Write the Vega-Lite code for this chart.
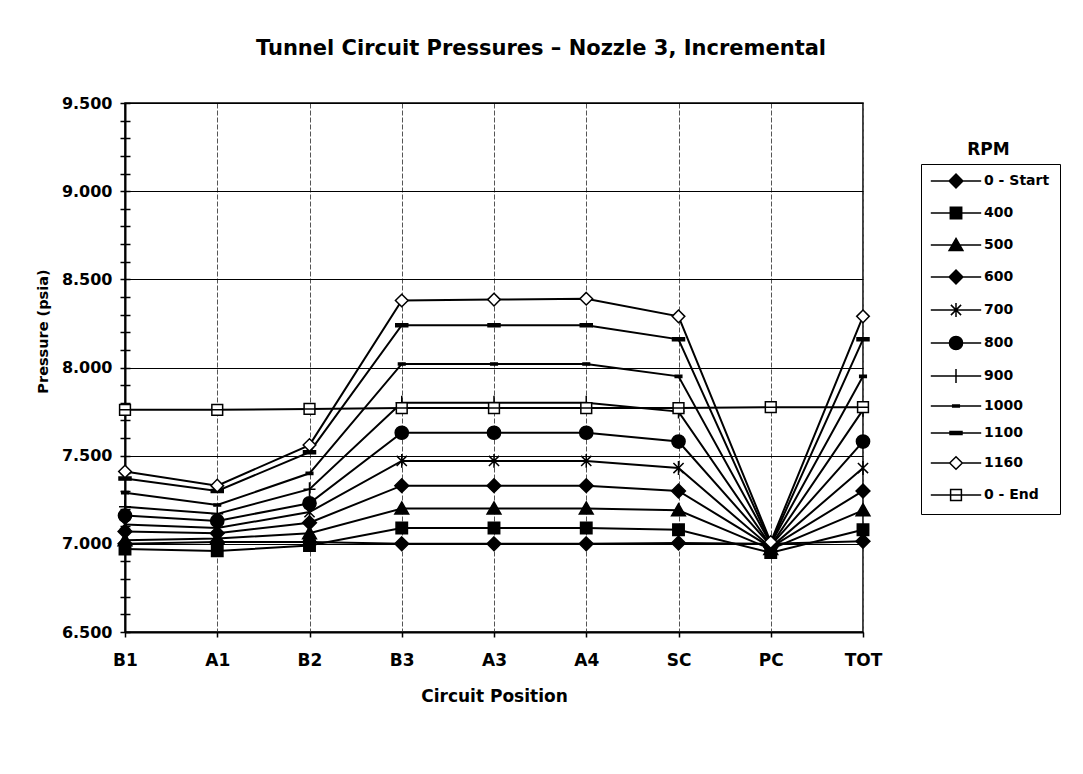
{
  "$schema": "https://vega.github.io/schema/vega-lite/v6.json",
  "width": 738,
  "height": 529,
  "autosize": {"type": "none"},
  "padding": {"left": 125, "top": 103, "right": 220, "bottom": 142},
  "background": "white",
  "config": {
    "font": "DejaVu Sans",
    "view": {"stroke": "black", "strokeWidth": 1.5},
    "axis": {"labelColor": "black", "titleColor": "black"}
  },
  "title": {
    "text": "Tunnel Circuit Pressures – Nozzle 3, Incremental",
    "font": "DejaVu Sans",
    "fontSize": 21,
    "fontWeight": "bold",
    "color": "black",
    "anchor": "middle",
    "frame": "group",
    "dx": 47,
    "offset": 36
  },
  "data": {
    "values": [
      {"pos": "B1", "rpm": "0 - Start", "p": 7.0},
      {"pos": "A1", "rpm": "0 - Start", "p": 7.01},
      {"pos": "B2", "rpm": "0 - Start", "p": 7.01},
      {"pos": "B3", "rpm": "0 - Start", "p": 7.0},
      {"pos": "A3", "rpm": "0 - Start", "p": 7.0},
      {"pos": "A4", "rpm": "0 - Start", "p": 7.0},
      {"pos": "SC", "rpm": "0 - Start", "p": 7.005},
      {"pos": "PC", "rpm": "0 - Start", "p": 7.0},
      {"pos": "TOT", "rpm": "0 - Start", "p": 7.015},
      {"pos": "B1", "rpm": "400", "p": 6.97},
      {"pos": "A1", "rpm": "400", "p": 6.96},
      {"pos": "B2", "rpm": "400", "p": 6.99},
      {"pos": "B3", "rpm": "400", "p": 7.09},
      {"pos": "A3", "rpm": "400", "p": 7.09},
      {"pos": "A4", "rpm": "400", "p": 7.09},
      {"pos": "SC", "rpm": "400", "p": 7.08},
      {"pos": "PC", "rpm": "400", "p": 6.95},
      {"pos": "TOT", "rpm": "400", "p": 7.08},
      {"pos": "B1", "rpm": "500", "p": 7.02},
      {"pos": "A1", "rpm": "500", "p": 7.03},
      {"pos": "B2", "rpm": "500", "p": 7.06},
      {"pos": "B3", "rpm": "500", "p": 7.2},
      {"pos": "A3", "rpm": "500", "p": 7.2},
      {"pos": "A4", "rpm": "500", "p": 7.2},
      {"pos": "SC", "rpm": "500", "p": 7.19},
      {"pos": "PC", "rpm": "500", "p": 6.97},
      {"pos": "TOT", "rpm": "500", "p": 7.19},
      {"pos": "B1", "rpm": "600", "p": 7.07},
      {"pos": "A1", "rpm": "600", "p": 7.06},
      {"pos": "B2", "rpm": "600", "p": 7.12},
      {"pos": "B3", "rpm": "600", "p": 7.33},
      {"pos": "A3", "rpm": "600", "p": 7.33},
      {"pos": "A4", "rpm": "600", "p": 7.33},
      {"pos": "SC", "rpm": "600", "p": 7.3},
      {"pos": "PC", "rpm": "600", "p": 6.98},
      {"pos": "TOT", "rpm": "600", "p": 7.3},
      {"pos": "B1", "rpm": "700", "p": 7.11},
      {"pos": "A1", "rpm": "700", "p": 7.09},
      {"pos": "B2", "rpm": "700", "p": 7.18},
      {"pos": "B3", "rpm": "700", "p": 7.47},
      {"pos": "A3", "rpm": "700", "p": 7.47},
      {"pos": "A4", "rpm": "700", "p": 7.47},
      {"pos": "SC", "rpm": "700", "p": 7.43},
      {"pos": "PC", "rpm": "700", "p": 6.98},
      {"pos": "TOT", "rpm": "700", "p": 7.43},
      {"pos": "B1", "rpm": "800", "p": 7.16},
      {"pos": "A1", "rpm": "800", "p": 7.13},
      {"pos": "B2", "rpm": "800", "p": 7.23},
      {"pos": "B3", "rpm": "800", "p": 7.63},
      {"pos": "A3", "rpm": "800", "p": 7.63},
      {"pos": "A4", "rpm": "800", "p": 7.63},
      {"pos": "SC", "rpm": "800", "p": 7.58},
      {"pos": "PC", "rpm": "800", "p": 6.99},
      {"pos": "TOT", "rpm": "800", "p": 7.58},
      {"pos": "B1", "rpm": "900", "p": 7.21},
      {"pos": "A1", "rpm": "900", "p": 7.17},
      {"pos": "B2", "rpm": "900", "p": 7.31},
      {"pos": "B3", "rpm": "900", "p": 7.8},
      {"pos": "A3", "rpm": "900", "p": 7.8},
      {"pos": "A4", "rpm": "900", "p": 7.8},
      {"pos": "SC", "rpm": "900", "p": 7.75},
      {"pos": "PC", "rpm": "900", "p": 6.99},
      {"pos": "TOT", "rpm": "900", "p": 7.76},
      {"pos": "B1", "rpm": "1000", "p": 7.29},
      {"pos": "A1", "rpm": "1000", "p": 7.22},
      {"pos": "B2", "rpm": "1000", "p": 7.4},
      {"pos": "B3", "rpm": "1000", "p": 8.02},
      {"pos": "A3", "rpm": "1000", "p": 8.02},
      {"pos": "A4", "rpm": "1000", "p": 8.02},
      {"pos": "SC", "rpm": "1000", "p": 7.95},
      {"pos": "PC", "rpm": "1000", "p": 7.0},
      {"pos": "TOT", "rpm": "1000", "p": 7.95},
      {"pos": "B1", "rpm": "1100", "p": 7.37},
      {"pos": "A1", "rpm": "1100", "p": 7.3},
      {"pos": "B2", "rpm": "1100", "p": 7.52},
      {"pos": "B3", "rpm": "1100", "p": 8.24},
      {"pos": "A3", "rpm": "1100", "p": 8.24},
      {"pos": "A4", "rpm": "1100", "p": 8.24},
      {"pos": "SC", "rpm": "1100", "p": 8.16},
      {"pos": "PC", "rpm": "1100", "p": 7.0},
      {"pos": "TOT", "rpm": "1100", "p": 8.16},
      {"pos": "B1", "rpm": "1160", "p": 7.41},
      {"pos": "A1", "rpm": "1160", "p": 7.33},
      {"pos": "B2", "rpm": "1160", "p": 7.56},
      {"pos": "B3", "rpm": "1160", "p": 8.38},
      {"pos": "A3", "rpm": "1160", "p": 8.385},
      {"pos": "A4", "rpm": "1160", "p": 8.39},
      {"pos": "SC", "rpm": "1160", "p": 8.29},
      {"pos": "PC", "rpm": "1160", "p": 7.01},
      {"pos": "TOT", "rpm": "1160", "p": 8.29},
      {"pos": "B1", "rpm": "0 - End", "p": 7.76},
      {"pos": "A1", "rpm": "0 - End", "p": 7.76},
      {"pos": "B2", "rpm": "0 - End", "p": 7.765},
      {"pos": "B3", "rpm": "0 - End", "p": 7.77},
      {"pos": "A3", "rpm": "0 - End", "p": 7.77},
      {"pos": "A4", "rpm": "0 - End", "p": 7.77},
      {"pos": "SC", "rpm": "0 - End", "p": 7.77},
      {"pos": "PC", "rpm": "0 - End", "p": 7.775},
      {"pos": "TOT", "rpm": "0 - End", "p": 7.775}
    ]
  },
  "resolve": {"scale": {"y": "independent", "shape": "independent", "fill": "independent"}},
  "layer": [
    {
      "mark": {"type": "line", "color": "black", "strokeWidth": 2},
      "encoding": {
        "x": {
          "field": "pos",
          "type": "ordinal",
          "sort": ["B1", "A1", "B2", "B3", "A3", "A4", "SC", "PC", "TOT"],
          "scale": {"type": "point", "padding": 0},
          "axis": {
            "title": "Circuit Position",
            "titleFontSize": 17,
            "titleFontWeight": "bold",
            "titlePadding": 20,
            "labelFontSize": 17,
            "labelFontWeight": "bold",
            "labelAngle": 0,
            "labelPadding": 15,
            "tickSize": 5,
            "tickColor": "black",
            "tickWidth": 1.5,
            "domainColor": "black",
            "domainWidth": 2,
            "grid": true,
            "gridColor": "#555555",
            "gridWidth": 1,
            "gridDash": [5, 2]
          }
        },
        "y": {
          "field": "p",
          "type": "quantitative",
          "scale": {"domain": [6.5, 9.5], "nice": false, "zero": false},
          "axis": {
            "title": "Pressure (psia)",
            "titleFontSize": 14.5,
            "titleFontWeight": "bold",
            "titleX": -82,
            "titleY": 228,
            "titleBaseline": "middle",
            "values": [6.5, 7, 7.5, 8, 8.5, 9, 9.5],
            "format": ".3f",
            "labelFontSize": 16,
            "labelFontWeight": "bold",
            "ticks": false,
            "tickSize": 0,
            "labelPadding": 13,
            "domainColor": "black",
            "domainWidth": 2,
            "grid": true,
            "gridColor": "black",
            "gridWidth": 1
          }
        },
        "detail": {"field": "rpm", "type": "nominal"}
      }
    },
    {
      "mark": {"type": "point", "filled": true, "stroke": "black", "strokeWidth": 1.5, "size": 144, "opacity": 1},
      "encoding": {
        "x": {
          "field": "pos",
          "type": "ordinal",
          "sort": ["B1", "A1", "B2", "B3", "A3", "A4", "SC", "PC", "TOT"],
          "scale": {"type": "point", "padding": 0}
        },
        "y": {
          "field": "p",
          "type": "quantitative",
          "scale": {"domain": [6.5, 9.5], "nice": false, "zero": false},
          "axis": {
            "orient": "left",
            "values": [6.5, 6.6, 6.7, 6.8, 6.9, 7.0, 7.1, 7.2, 7.3, 7.4, 7.5, 7.6, 7.7, 7.8, 7.9, 8.0, 8.1, 8.2, 8.3, 8.4, 8.5, 8.6, 8.7, 8.8, 8.9, 9.0, 9.1, 9.2, 9.3, 9.4, 9.5],
            "offset": -5,
            "tickSize": 10,
            "tickColor": "black",
            "tickWidth": 1.5,
            "labels": false,
            "domain": false,
            "grid": false,
            "title": null
          }
        },
        "fill": {
          "field": "rpm",
          "type": "nominal",
          "scale": {
            "domain": ["0 - Start", "400", "500", "600", "700", "800", "900", "1000", "1100", "1160", "0 - End"],
            "range": ["black", "black", "black", "black", "black", "black", "black", "black", "black", "white", "white"]
          },
          "legend": null
        },
        "shape": {
          "field": "rpm",
          "type": "nominal",
          "scale": {
            "domain": ["0 - Start", "400", "500", "600", "700", "800", "900", "1000", "1100", "1160", "0 - End"],
            "range": [
              "M0,-1.15L1.15,0L0,1.15L-1.15,0Z",
              "M-0.95,-0.95H0.95V0.95H-0.95Z",
              "M0,-1.1L1.15,0.9H-1.15Z",
              "M0,-1.15L1.15,0L0,1.15L-1.15,0Z",
              "M-0.85,-0.85L0.85,0.85M-0.85,0.85L0.85,-0.85M0,-1.15V1.15",
              "M1.1,0A1.1,1.1,0,1,1,-1.1,0A1.1,1.1,0,1,1,1.1,0Z",
              "M0,-1.15V1.15M-1,0H1",
              "M-0.55,-0.18H0.55V0.18H-0.55Z",
              "M-1,-0.25H1V0.25H-1Z",
              "M0,-1.05L1.05,0L0,1.05L-1.05,0Z",
              "M-0.9,-0.9H0.9V0.9H-0.9ZM-0.9,0H0.9"
            ]
          },
          "legend": null
        }
      }
    },
    {
      "transform": [{"filter": "false"}],
      "mark": {"type": "point", "filled": true, "stroke": "black", "strokeWidth": 1.5, "size": 144, "opacity": 1},
      "encoding": {
        "x": {
          "field": "pos",
          "type": "ordinal",
          "sort": ["B1", "A1", "B2", "B3", "A3", "A4", "SC", "PC", "TOT"],
          "scale": {"type": "point", "padding": 0}
        },
        "y": {
          "field": "p",
          "type": "quantitative",
          "scale": {"domain": [6.5, 9.5], "nice": false, "zero": false},
          "axis": {
            "orient": "right",
            "domain": false,
            "ticks": false,
            "labels": false,
            "grid": false,
            "title": "RPM",
            "titleAngle": 0,
            "titleX": 125,
            "titleY": 46,
            "titleAlign": "center",
            "titleBaseline": "middle",
            "titleFontSize": 17,
            "titleFontWeight": "bold"
          }
        },
        "fill": {
          "field": "rpm",
          "type": "nominal",
          "scale": {
            "domain": ["0 - Start", "400", "500", "600", "700", "800", "900", "1000", "1100", "1160", "0 - End"],
            "range": ["black", "black", "black", "black", "black", "black", "black", "black", "black", "white", "white"]
          },
          "legend": {
            "title": null,
            "orient": "none",
            "legendX": 796,
            "legendY": 61,
            "strokeColor": "black",
            "fillColor": "white",
            "padding": 10,
            "labelFont": "DejaVu Sans",
            "labelFontSize": 14,
            "labelFontWeight": "bold",
            "labelColor": "black",
            "symbolSize": 144,
            "symbolOffset": 18,
            "labelOffset": 21,
            "rowPadding": 13
          }
        },
        "shape": {
          "field": "rpm",
          "type": "nominal",
          "scale": {
            "domain": ["0 - Start", "400", "500", "600", "700", "800", "900", "1000", "1100", "1160", "0 - End"],
            "range": [
              "M-4.2,0H4.2M0,-1.15L1.15,0L0,1.15L-1.15,0Z",
              "M-4.2,0H4.2M-0.95,-0.95H0.95V0.95H-0.95Z",
              "M-4.2,0H4.2M0,-1.1L1.15,0.9H-1.15Z",
              "M-4.2,0H4.2M0,-1.15L1.15,0L0,1.15L-1.15,0Z",
              "M-4.2,0H4.2M-0.85,-0.85L0.85,0.85M-0.85,0.85L0.85,-0.85M0,-1.15V1.15",
              "M-4.2,0H4.2M1.1,0A1.1,1.1,0,1,1,-1.1,0A1.1,1.1,0,1,1,1.1,0Z",
              "M-4.2,0H4.2M0,-1.15V1.15",
              "M-4.2,0H4.2M-0.55,-0.18H0.55V0.18H-0.55Z",
              "M-4.2,0H4.2M-1,-0.25H1V0.25H-1Z",
              "M-4.2,0H-1.05M1.05,0H4.2M0,-1.05L1.05,0L0,1.05L-1.05,0Z",
              "M-4.2,0H4.2M-0.9,-0.9H0.9V0.9H-0.9ZM-0.9,0H0.9"
            ]
          },
          "legend": {
            "title": null,
            "orient": "none",
            "legendX": 796,
            "legendY": 61,
            "strokeColor": "black",
            "fillColor": "white",
            "padding": 10,
            "labelFont": "DejaVu Sans",
            "labelFontSize": 14,
            "labelFontWeight": "bold",
            "labelColor": "black",
            "symbolSize": 144,
            "symbolOffset": 18,
            "labelOffset": 21,
            "rowPadding": 13
          }
        }
      }
    }
  ]
}
